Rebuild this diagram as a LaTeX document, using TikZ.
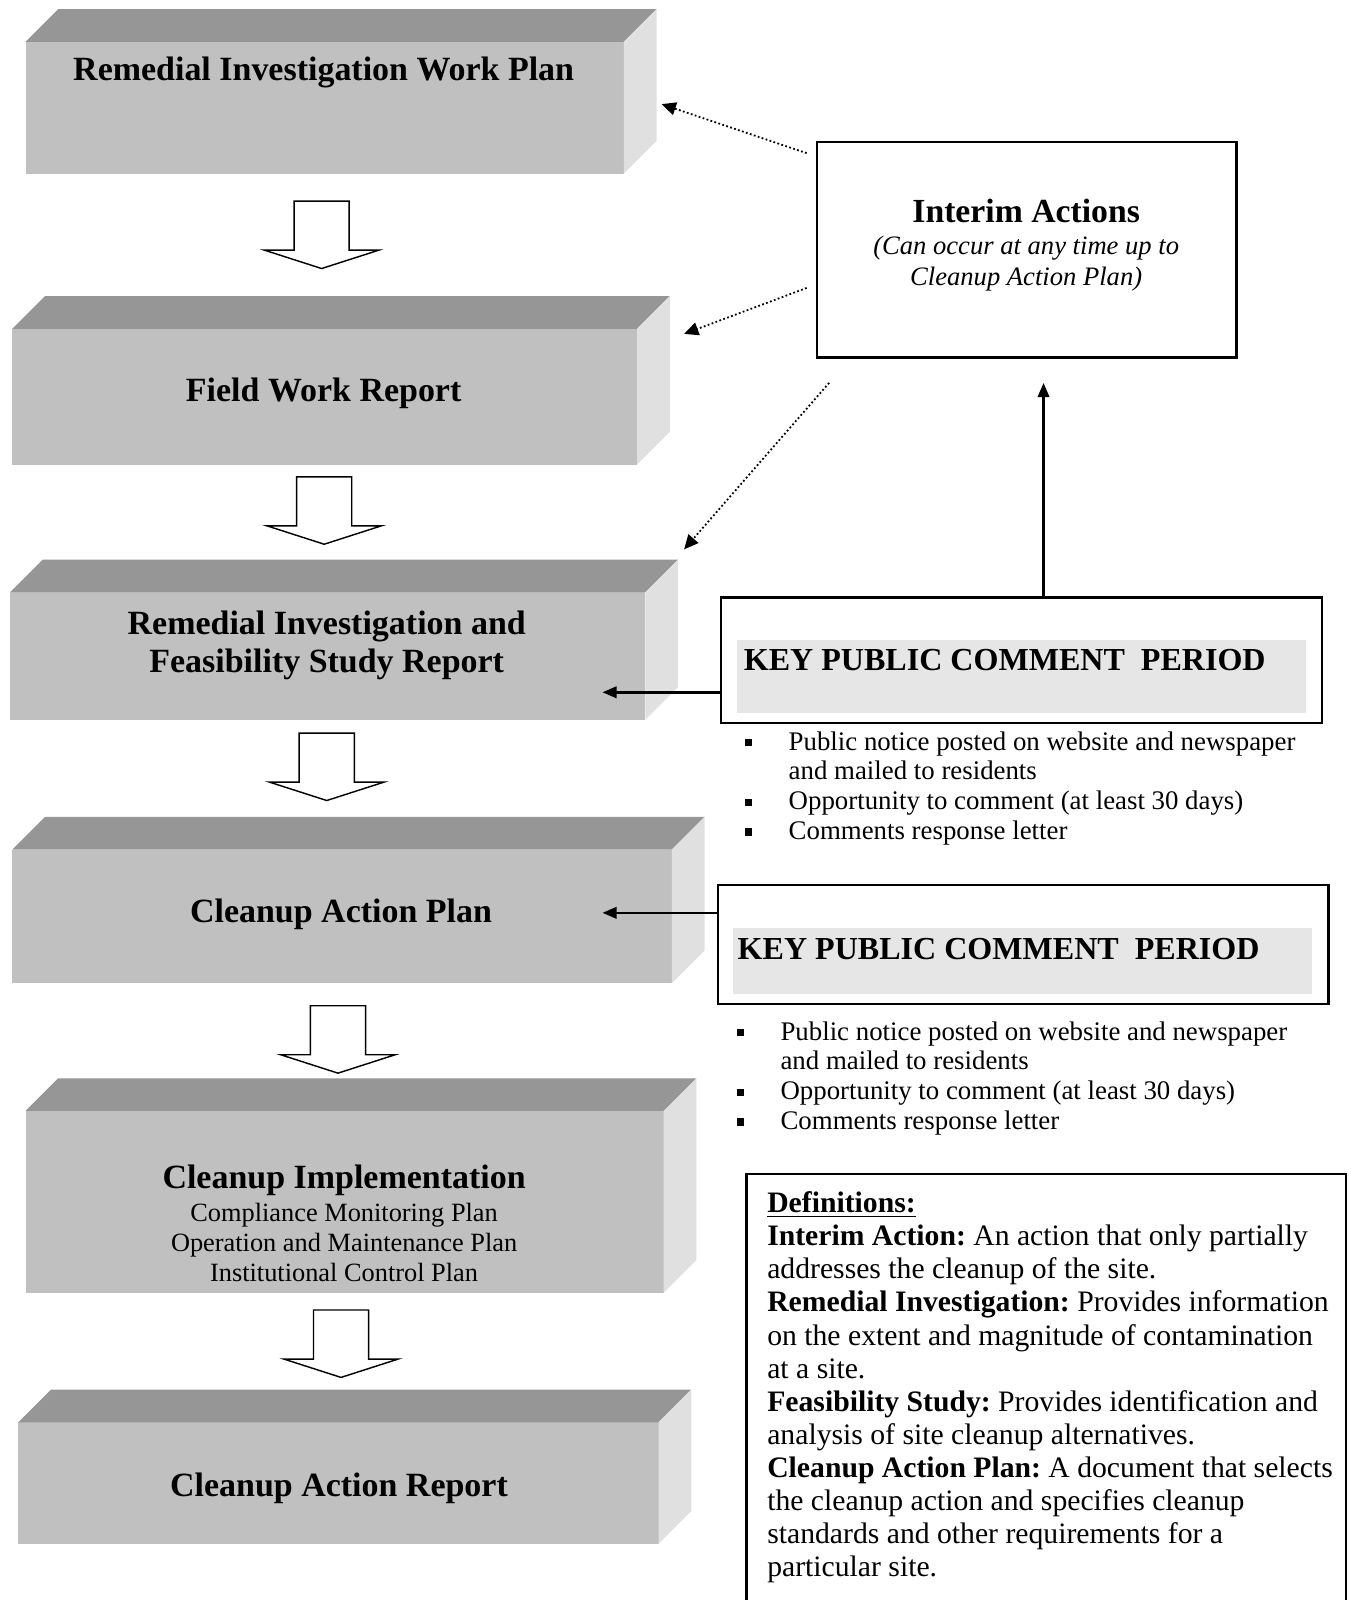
\documentclass[tikz,border=0pt]{standalone}
\usepackage{fontspec}
\setmainfont{Liberation Serif}
\usepackage{tikz}
\usetikzlibrary{positioning, arrows.meta}

\definecolor{frontgray}{RGB}{192,192,192}
\definecolor{topgray}{RGB}{150,150,150}
\definecolor{sidegray}{RGB}{224,224,224}
\definecolor{bandgray}{RGB}{230,230,230}
\newlength{\pxl}
\setlength{\pxl}{0.43pt}
\newcommand{\sqitem}{\makebox[43\pxl][l]{\rule[0.3ex]{3pt}{3pt}}}
\newcommand{\sqgap}{\hspace*{43\pxl}}
\frenchspacing

\tikzset{
    stage/.style={fill=frontgray, inner sep=0pt, outer sep=0pt},
    stagetitle/.style={font=\fontsize{14.3}{16.3}\selectfont\bfseries, align=center, inner sep=0pt},
    stagesub/.style={font=\fontsize{11.1}{12.7}\selectfont, align=center, inner sep=0pt},
    blockarrow/.style={draw, fill=white, line width=0.6pt, line join=miter},
    dotlink/.style={densely dotted, line width=0.75pt, -{Triangle[length=6pt, width=5.5pt]}},
    link/.style={line width=1.1pt, -{Triangle[length=6pt, width=4.8pt]}},
    framebox/.style={draw, line width=1pt, inner sep=0pt, outer sep=0pt},
    band/.style={fill=bandgray, inner sep=0pt, outer sep=0pt},
    keytitle/.style={font=\fontsize{13.5}{16}\selectfont\bfseries, anchor=west, inner sep=0pt},
    notes/.style={font=\fontsize{11.3}{12.5}\selectfont, align=left, anchor=north west, inner sep=0pt},
    defs/.style={font=\fontsize{12.5}{13.9}\selectfont, align=left, anchor=north west, inner sep=0pt}
}

\begin{document}
\begin{tikzpicture}[x=0.43pt, y=-0.43pt]
    \useasboundingbox (0,0) rectangle (1323,1567);

    % stages (front faces)
    \node[stage, minimum width=586*\pxl, minimum height=129*\pxl] (riwp) at (318,105.5) {};
    \node[stage, minimum width=612*\pxl, minimum height=133*\pxl] (fwr) at (318,388.5) {};
    \node[stage, minimum width=622*\pxl, minimum height=125*\pxl] (rifs) at (321,642.5) {};
    \node[stage, minimum width=646*\pxl, minimum height=131*\pxl] (cap) at (335,897.5) {};
    \node[stage, minimum width=625*\pxl, minimum height=178*\pxl] (ci) at (337.5,1177) {};
    \node[stage, minimum width=627*\pxl, minimum height=119*\pxl] (car) at (331.5,1452.5) {};

    % top and side faces
    \foreach \n in {riwp,fwr,rifs,cap,ci,car} {
        \fill[topgray] (\n.north west) -- ++(32,-32) -- ([shift={(32,-32)}]\n.north east) -- (\n.north east) -- cycle;
        \fill[sidegray] (\n.north east) -- ++(32,-32) -- ([shift={(32,-32)}]\n.south east) -- (\n.south east) -- cycle;
    }

    \node[stagetitle] (riwptext) at (317,71) {Remedial Investigation Work Plan};
    \node[stagetitle] (fwrtext) at (317,385) {Field Work Report};
    \node[stagetitle] (rifstext) at (320,632) {Remedial Investigation and\\Feasibility Study Report};
    \node[stagetitle] (captext) at (334,895) {Cleanup Action Plan};
    \node[stagetitle] (citext) at (337,1156) {Cleanup Implementation};
    \node[stagesub] (cisub) at (337,1217) {Compliance Monitoring Plan\\Operation and Maintenance Plan\\Institutional Control Plan};
    \node[stagetitle] (cartext) at (332,1458) {Cleanup Action Report};

    % hollow arrows between stages
    \foreach \cx/\ty in {315/197, 317.5/467, 320/718, 331/985, 334/1283}
        \draw[blockarrow] (\cx-27,\ty) -- (\cx+27,\ty) -- (\cx+27,\ty+48) -- (\cx+56,\ty+48)
            -- (\cx,\ty+66) -- (\cx-56,\ty+48) -- (\cx-27,\ty+48) -- cycle;

    % interim actions
    \node[framebox, minimum width=411*\pxl, minimum height=211*\pxl] (interim) at (1005.5,244.5) {};
    \node[font=\fontsize{14.2}{15}\selectfont\bfseries, inner sep=0pt] (interimtitle) at (1005,207) {Interim Actions};
    \node[font=\fontsize{11.2}{13.3}\selectfont\itshape, align=center, inner sep=0pt] (interimnote) at (1005,258) {(Can occur at any time up to\\Cleanup Action Plan)};

    \coordinate (riwpin) at (648,102);
    \coordinate (fwrin) at (670,327);
    \coordinate (rifstop) at (670,538);
    \draw[dotlink] ([shift={(-10,11)}]interim.north west) -- (riwpin);
    \draw[dotlink] ([shift={(-10,143)}]interim.north west) -- (fwrin);
    \draw[dotlink] ([shift={(12,25)}]interim.south west) -- (rifstop);

    % key public comment periods
    \node[framebox, minimum width=589*\pxl, minimum height=123*\pxl] (keyone) at (1000.5,646.5) {};
    \node[band, minimum width=557*\pxl, minimum height=71*\pxl] (keyoneband) at (1000.5,662.5) {};
    \node[keytitle] (keyonetitle) at (728,646) {KEY PUBLIC COMMENT\ \ PERIOD};
    \node[notes] (keyonenotes) at (729,716) {\sqitem Public notice posted on website and newspaper\\
        \sqgap and mailed to residents\\
        \sqitem Opportunity to comment (at least 30 days)\\
        \sqitem Comments response letter};

    \node[framebox, minimum width=598*\pxl, minimum height=116*\pxl] (keytwo) at (1002,925) {};
    \node[band, minimum width=567*\pxl, minimum height=64*\pxl] (keytwoband) at (1001.5,941) {};
    \node[keytitle] (keytwotitle) at (722,929) {KEY PUBLIC COMMENT\ \ PERIOD};
    \node[notes] (keytwonotes) at (721,1000) {\sqitem Public notice posted on website and newspaper\\
        \sqgap and mailed to residents\\
        \sqitem Opportunity to comment (at least 30 days)\\
        \sqitem Comments response letter};

    \coordinate (interimin) at (1022,375);
    \coordinate (rifsin) at (590,678);
    \coordinate (capin) at (590,894);
    \draw[link] (keyone.north -| interimin) -- (interimin);
    \draw[link] (keyone.west |- rifsin) -- (rifsin);
    \draw[link] (keytwo.west |- capin) -- (capin);

    % definitions
    \node[defs] (defs) at (751,1167) {\underline{\textbf{Definitions:}}\\
        \textbf{Interim Action:} An action that only partially\\
        addresses the cleanup of the site.\\
        \textbf{Remedial Investigation:} Provides information\\
        on the extent and magnitude of contamination\\
        at a site.\\
        \textbf{Feasibility Study:} Provides identification and\\
        analysis of site cleanup alternatives.\\
        \textbf{Cleanup Action Plan:} A document that selects\\
        the cleanup action and specifies cleanup\\
        standards and other requirements for a\\
        particular site.};
    \draw[line width=1pt] (731,1575) |- (1318,1150) -- (1318,1575);
\end{tikzpicture}
\end{document}
